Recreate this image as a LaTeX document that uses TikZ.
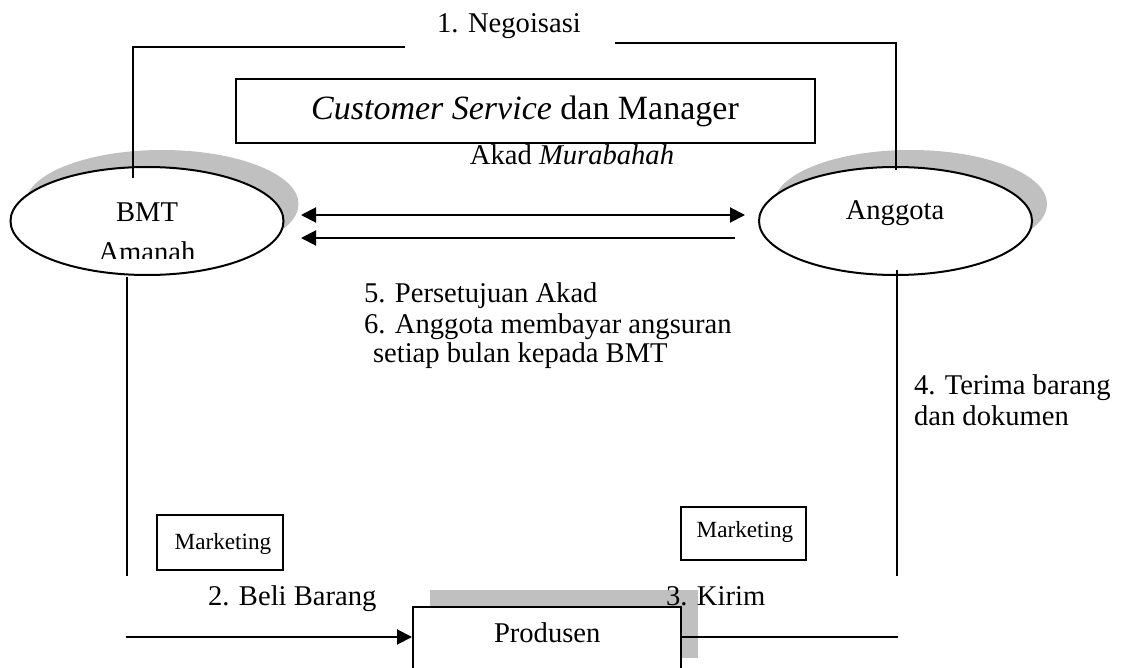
\documentclass[tikz,border=0pt]{standalone}
\usepackage{fontspec}
\setmainfont{Liberation Serif}
\usetikzlibrary{arrows.meta,shapes.geometric}
\definecolor{shadowgray}{RGB}{192,192,192}
\begin{document}
\begin{tikzpicture}[x=0.5pt,y=-0.5pt,line width=1pt,
  lbl/.style={font=\fontsize{14.3}{17}\selectfont,inner sep=0pt,anchor=base west},
  lblc/.style={font=\fontsize{14.3}{17}\selectfont,inner sep=0pt,anchor=base},
  big/.style={font=\fontsize{17}{20}\selectfont,inner sep=0pt,anchor=base},
  small/.style={font=\fontsize{11.6}{13}\selectfont,inner sep=0pt,anchor=base},
  ell/.style={ellipse,draw,fill=white,minimum width=136.5pt,minimum height=54pt,inner sep=0pt},
  shad/.style={ellipse,fill=shadowgray,minimum width=136.5pt,minimum height=54pt,inner sep=0pt},
  box/.style={rectangle,draw,fill=white,inner sep=0pt},
  shbox/.style={rectangle,fill=shadowgray,inner sep=0pt},
  arr/.style={-{Triangle[length=7.5pt,width=7.5pt]}},
  darr/.style={{Triangle[length=7.5pt,width=7.5pt]}-{Triangle[length=7.5pt,width=7.5pt]}}]
\useasboundingbox (0,0) rectangle (1123,668);
\fill[white] (0,0) rectangle (1123,668);

% ellipses with shadows
\node[shad] (bmtS) at (162,204) {};
\node[ell] (bmt) at (147,221) {};
\node[shad] (angS) at (910.5,204) {};
\node[ell] (ang) at (895.5,221) {};

\node[lblc] (bmtT) at (147,221) {BMT};
\begin{scope}
  \clip (0,0) rectangle (1123,258);
  \node[lblc] (bmtT2) at (147,262) {Amanah};
\end{scope}
\node[lblc] (angT) at (895,220) {Anggota};

% Customer Service box
\node[box,minimum width=289.5pt,minimum height=32pt] (cs) at (525.5,111) {};
\node[big] (csT) at (525,120) {\textit{Customer Service} dan Manager};
\node[lblc] (akad) at (572,165) {Akad \textit{Murabahah}};

% top negotiation connectors
\node[lblc] (nego) at (509,33) {1. Negoisasi};
\coordinate (a1) at (133,178);
\coordinate (n1) at (405,47);
\coordinate (a2) at (896,170);
\coordinate (n2) at (615,43);
\draw (a1) |- (n1);
\draw (a2) |- (n2);

% arrows between ellipses
\coordinate (u1) at (301,215);
\coordinate (u2) at (745,215);
\coordinate (l1) at (301,238);
\coordinate (l2) at (735,238);
\draw[darr] (u1) -- (u2);
\draw[arr] (l2) -- (l1);

\node[lbl] (t5) at (363,302) {5. Persetujuan Akad};
\node[lbl] (t6) at (363,333) {6. Anggota membayar angsuran};
\node[lbl] (t6b) at (372,362) {setiap bulan kepada BMT};

\node[lbl] (t4) at (913,394) {4. Terima barang};
\node[lbl] (t4b) at (913,425) {dan dokumen};

% vertical lines
\coordinate (v1a) at (127,277);
\coordinate (v1b) at (127,576);
\coordinate (v2a) at (897,270);
\coordinate (v2b) at (897,576);
\draw (v1a) -- (v1b);
\draw (v2a) -- (v2b);

% marketing boxes
\node[box,minimum width=63pt,minimum height=27.5pt] (mk1) at (220,542.5) {};
\node[small] (mk1T) at (223,549) {Marketing};
\node[box,minimum width=62.5pt,minimum height=26.5pt] (mk2) at (743.5,533.5) {};
\node[small] (mk2T) at (745,537) {Marketing};

% produsen
\node[shbox,minimum width=134pt,minimum height=34pt] (prodS) at (564,624) {};
\node[box,minimum width=134pt,minimum height=34pt] (prod) at (547,641) {};
\node[lbl] (prodT) at (493,642) {Produsen};

\node[lbl] (t2) at (207,605) {2. Beli Barang};
\node[lbl] (t3) at (665,605) {3. Kirim};

\coordinate (c1) at (126,637);
\coordinate (c2) at (898,637);
\draw[arr] (c1) -- (c1 -| prod.west);
\draw (c2 -| prod.east) -- (c2);
\end{tikzpicture}
\end{document}
